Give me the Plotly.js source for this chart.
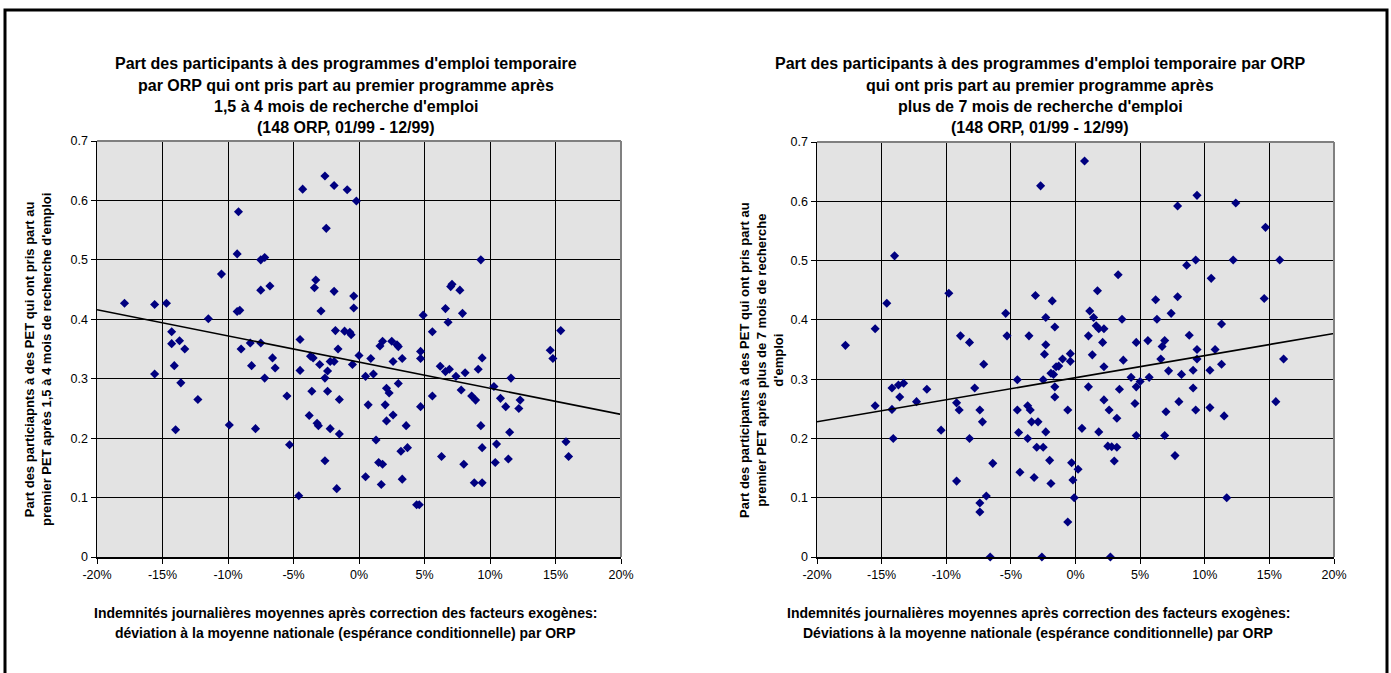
<!DOCTYPE html>
<html><head><meta charset="utf-8">
<script src="https://cdn.plot.ly/plotly-3.0.1.min.js"></script>
<style>html,body{margin:0;padding:0;background:#fff;overflow:hidden}#chart{width:1391px;height:673px}</style>
</head><body><div id="chart"></div>
<script>
// Left chart: participants after 1.5-4 months (x in %, y share)
const leftX = [-2.6,-4.3,-1.9,-0.9,-0.2,-9.2,-2.5,-9.3,-7.5,-7.2,-10.5,-3.3,-3.4,-1.9,-7.5,-6.8,-0.4,-0.4,-2.9,-17.9,-15.6,-14.7,-9.3,-9.1,-11.5,-14.3,-1.8,-1.1,-0.7,-0.6,-4.5,-13.7,
 9.3,7.0,7.1,7.7,6.6,7.9,4.9,6.8,5.6,15.4,1.8,2.5,
 -14.3,-13.3,-14.1,-15.6,-13.6,-12.3,-14.0,-9.9,-7.9,-9.0,-8.3,-7.5,-8.2,-6.6,-6.4,-7.2,-5.5,-4.5,-5.3,-4.6,-3.7,-3.5,-3.0,-3.6,-2.4,-2.6,-2.4,-2.2,-1.9,-1.6,-1.5,-3.8,-3.2,-3.1,-2.2,-1.5,-2.6,-1.7,-0.5,0.0,0.5,0.7,0.5,
 1.6,2.9,3.0,0.9,2.6,3.3,4.7,4.7,9.4,14.6,14.8,6.2,6.6,6.9,7.4,8.1,9.1,1.1,3.0,2.1,2.3,11.6,10.3,7.8,8.6,8.9,10.8,12.3,11.2,12.2,5.6,2.0,4.7,2.6,2.1,3.6,9.3,11.5,1.3,3.2,3.7,9.4,10.5,15.8,16.0,6.3,1.5,1.8,8.0,10.4,11.4,3.3,1.7,8.8,9.4,4.4,4.6];
const leftY = [0.641,0.619,0.625,0.618,0.599,0.581,0.553,0.510,0.500,0.504,0.476,0.466,0.453,0.447,0.449,0.456,0.439,0.419,0.414,0.427,0.425,0.427,0.413,0.415,0.401,0.379,0.381,0.380,0.378,0.374,0.366,0.364,
 0.500,0.455,0.459,0.449,0.418,0.410,0.407,0.395,0.379,0.381,0.363,0.363,
 0.359,0.350,0.322,0.308,0.293,0.265,0.214,0.222,0.216,0.350,0.360,0.360,0.322,0.335,0.318,0.301,0.271,0.314,0.189,0.103,0.338,0.335,0.324,0.279,0.313,0.301,0.279,0.329,0.329,0.350,0.265,0.238,0.225,0.221,0.216,0.207,0.162,0.115,0.324,0.339,0.304,0.256,0.135,
 0.355,0.357,0.354,0.334,0.329,0.334,0.346,0.334,0.335,0.348,0.334,0.321,0.312,0.316,0.304,0.310,0.316,0.308,0.292,0.284,0.276,0.301,0.287,0.281,0.271,0.264,0.267,0.264,0.253,0.250,0.271,0.256,0.253,0.239,0.229,0.221,0.221,0.210,0.197,0.178,0.184,0.184,0.190,0.194,0.169,0.169,0.159,0.156,0.156,0.159,0.165,0.131,0.122,0.125,0.125,0.088,0.088];
// Right chart: participants after more than 7 months
const rightX = [-2.7,-14.0,-14.6,-9.8,-15.5,-5.4,-3.1,-1.8,-2.3,-1.6,-8.9,-5.3,-3.6,
 0.7,9.4,7.9,12.4,14.7,9.3,8.6,12.2,15.8,10.5,3.3,1.7,6.2,7.9,14.6,1.1,1.4,7.4,3.6,6.3,11.3,1.6,1.8,2.2,1.0,8.8,
 -17.8,-8.2,-7.1,-2.3,-2.4,-1.5,-1.9,-1.7,-14.2,-13.7,-13.3,-13.6,-12.3,-11.5,-15.5,-14.2,-14.1,-10.4,-9.2,-9.0,-7.8,-7.4,-7.2,-8.2,-4.5,-4.5,-4.4,-3.7,-3.7,-3.5,-3.4,-2.9,-2.5,-2.3,-3.0,-2.5,-1.6,-1.6,-2.0,-1.9,-3.2,-4.3,-9.2,-6.4,-6.9,-7.4,-7.4,-6.6,-2.6,
 2.1,4.7,5.6,6.9,6.7,9.4,10.8,-0.4,1.3,-1.0,-1.3,-0.4,3.7,6.6,9.4,11.3,16.1,2.2,7.2,8.2,9.1,10.4,4.3,5.0,4.7,5.7,1.0,3.4,9.1,2.2,4.6,8.0,-0.6,2.6,7.0,9.3,10.4,11.5,15.5,3.2,0.5,1.8,4.7,6.9,2.5,2.8,3.2,7.7,-0.3,0.2,3.0,-0.2,-0.1,11.7,-0.6,2.7];
const rightY = [0.626,0.508,0.428,0.445,0.385,0.411,0.441,0.432,0.404,0.388,0.373,0.373,0.373,
 0.668,0.610,0.592,0.597,0.556,0.501,0.492,0.501,0.501,0.470,0.476,0.449,0.434,0.439,0.436,0.415,0.404,0.411,0.401,0.401,0.393,0.390,0.385,0.385,0.373,0.374,
 0.357,0.362,0.325,0.358,0.342,0.321,0.310,0.308,0.285,0.290,0.293,0.270,0.262,0.283,0.255,0.249,0.200,0.214,0.260,0.248,0.285,0.248,0.228,0.200,0.299,0.248,0.210,0.200,0.255,0.248,0.228,0.228,0.299,0.211,0.185,0.185,0.287,0.270,0.163,0.124,0.134,0.143,0.128,0.158,0.103,0.091,0.076,0.0,0.0,
 0.362,0.362,0.365,0.365,0.355,0.350,0.350,0.343,0.341,0.334,0.322,0.330,0.332,0.334,0.334,0.325,0.334,0.321,0.314,0.308,0.315,0.315,0.303,0.296,0.287,0.303,0.287,0.283,0.285,0.265,0.259,0.262,0.248,0.248,0.245,0.248,0.252,0.238,0.262,0.234,0.217,0.211,0.205,0.205,0.187,0.186,0.185,0.171,0.159,0.148,0.162,0.130,0.100,0.100,0.059,0.0];
// Linear trend lines (end points)
const trendLeftX = [-20, 20];
const trendLeftY = [0.416, 0.240];
const trendRightX = [-20, 20];
const trendRightY = [0.228, 0.377];
// Axis ticks
const xTickVals = [-20,-15,-10,-5,0,5,10,15,20];
const xTickText = ['-20%','-15%','-10%','-5%','0%','5%','10%','15%','20%'];
const yTickVals = [0,0.1,0.2,0.3,0.4,0.5,0.6,0.7];
const yTickText = ['0','0.1','0.2','0.3','0.4','0.5','0.6','0.7'];
// Texts
const leftTitle = ["Part des participants à des programmes d'emploi temporaire","par ORP qui ont pris part au premier programme après","1,5 à 4 mois de recherche d'emploi","(148 ORP, 01/99 - 12/99)"];
const rightTitle = ["Part des participants à des programmes d'emploi temporaire par ORP","qui ont pris part au premier programme après","plus de 7 mois de recherche d'emploi","(148 ORP, 01/99 - 12/99)"];
const leftYTitle = "Part des particiapnts à des PET qui ont pris part au<br>premier PET après 1,5 à 4 mois de recherche d'emploi";
const rightYTitle = "Part des participants à des PET qui ont pris part au<br>premier PET après plus de 7 mois de recherche<br>d'emploi";
const leftXTitle = ["Indemnités journalières moyennes après correction des facteurs exogènes:","déviation à la moyenne nationale (espérance conditionnelle) par ORP"];
const rightXTitle = ["Indemnités journalières moyennes après correction des facteurs exogènes:","Déviations à la moyenne nationale (espérance conditionnelle) par ORP"];

const W = 1391, H = 673;
const px = v => v / W;
const py = v => 1 - v / H;
const FONT = 'Arial, "Liberation Sans", sans-serif';
const L = {x0: 97, x1: 621, y0: 141, y1: 557, cx: 346, xcx: 345};
const R = {x0: 817, x1: 1334, y0: 142, y1: 557, cx: 1040, xcx: 1038};

const marker = {symbol: 'diamond', size: 7, color: '#000080', line: {width: 0}};
const traces = [
  {x: leftX, y: leftY, type: 'scatter', mode: 'markers', marker, xaxis: 'x', yaxis: 'y', cliponaxis: false, hoverinfo: 'x+y'},
  {x: trendLeftX, y: trendLeftY, type: 'scatter', mode: 'lines', line: {color: '#000', width: 1.6}, xaxis: 'x', yaxis: 'y'},
  {x: rightX, y: rightY, type: 'scatter', mode: 'markers', marker, xaxis: 'x2', yaxis: 'y2', cliponaxis: false, hoverinfo: 'x+y'},
  {x: trendRightX, y: trendRightY, type: 'scatter', mode: 'lines', line: {color: '#000', width: 1.6}, xaxis: 'x2', yaxis: 'y2'}
];

function xa(b){ return {domain: [px(b.x0), px(b.x1)], range: [-20, 20], tickvals: xTickVals, ticktext: xTickText,
  showgrid: true, gridcolor: '#000', gridwidth: 1, zeroline: false, showline: true, linecolor: '#000', linewidth: 1.5,
  ticks: 'outside', ticklen: 5, tickcolor: '#000', tickwidth: 1, tickfont: {family: FONT, size: 12.5, color: '#000'}, fixedrange: true}; }
function ya(b){ return {domain: [py(b.y1), py(b.y0)], range: [0, 0.7], tickvals: yTickVals, ticktext: yTickText,
  showgrid: true, gridcolor: '#000', gridwidth: 1, zeroline: false, showline: true, linecolor: '#000', linewidth: 1.5,
  ticks: 'outside', ticklen: 5, tickcolor: '#000', tickwidth: 1, tickfont: {family: FONT, size: 12.5, color: '#000'}, fixedrange: true}; }

const ann = [];
const titleLineY = [63, 85, 106, 127];
function addTitle(lines, cx){ lines.forEach((t,i)=>ann.push({text: t, x: px(cx), y: py(titleLineY[i]), xref: 'paper', yref: 'paper', xanchor: 'center', yanchor: 'middle', showarrow: false, font: {family: FONT, size: 16, color: '#000', weight: 'bold'}})); }
addTitle(leftTitle, L.cx);
addTitle(rightTitle, R.cx);
function addXTitle(lines, cx){ [613, 633].forEach((yy,i)=>ann.push({text: lines[i], x: px(cx), y: py(yy), xref: 'paper', yref: 'paper', xanchor: 'center', yanchor: 'middle', showarrow: false, font: {family: FONT, size: 14, color: '#000', weight: 'bold'}})); }
addXTitle(leftXTitle, L.xcx);
addXTitle(rightXTitle, R.xcx);
ann.push({text: leftYTitle, textangle: -90, x: px(38), y: py(360), xref: 'paper', yref: 'paper', xanchor: 'center', yanchor: 'middle', showarrow: false, font: {family: FONT, size: 13, color: '#000', weight: 'bold'}});
ann.push({text: rightYTitle, textangle: -90, x: px(761), y: py(360), xref: 'paper', yref: 'paper', xanchor: 'center', yanchor: 'middle', showarrow: false, font: {family: FONT, size: 13, color: '#000', weight: 'bold'}});

const shapes = [
  {type: 'rect', xref: 'paper', yref: 'paper', x0: px(5), x1: px(1387), y0: py(10), y1: py(680), line: {color: '#000', width: 3}, fillcolor: 'rgba(0,0,0,0)'},
];
[L, R].forEach(b => {
  shapes.push({type: 'line', xref: 'paper', yref: 'paper', x0: px(b.x0), x1: px(b.x1), y0: py(b.y0), y1: py(b.y0), line: {color: '#808080', width: 2}});
  shapes.push({type: 'line', xref: 'paper', yref: 'paper', x0: px(b.x1), x1: px(b.x1), y0: py(b.y0), y1: py(b.y1), line: {color: '#808080', width: 2}});
});

const layout = {
  width: W, height: H, margin: {l: 0, r: 0, t: 0, b: 0}, showlegend: false,
  paper_bgcolor: '#fff', plot_bgcolor: '#e3e3e3',
  xaxis: xa(L), yaxis: ya(L), xaxis2: Object.assign(xa(R), {anchor: 'y2'}), yaxis2: Object.assign(ya(R), {anchor: 'x2'}),
  annotations: ann, shapes: shapes, font: {family: FONT}
};
layout.xaxis.anchor = 'y';
layout.yaxis.anchor = 'x';
Plotly.newPlot('chart', traces, layout, {staticPlot: true, displayModeBar: false});
</script></body></html>
